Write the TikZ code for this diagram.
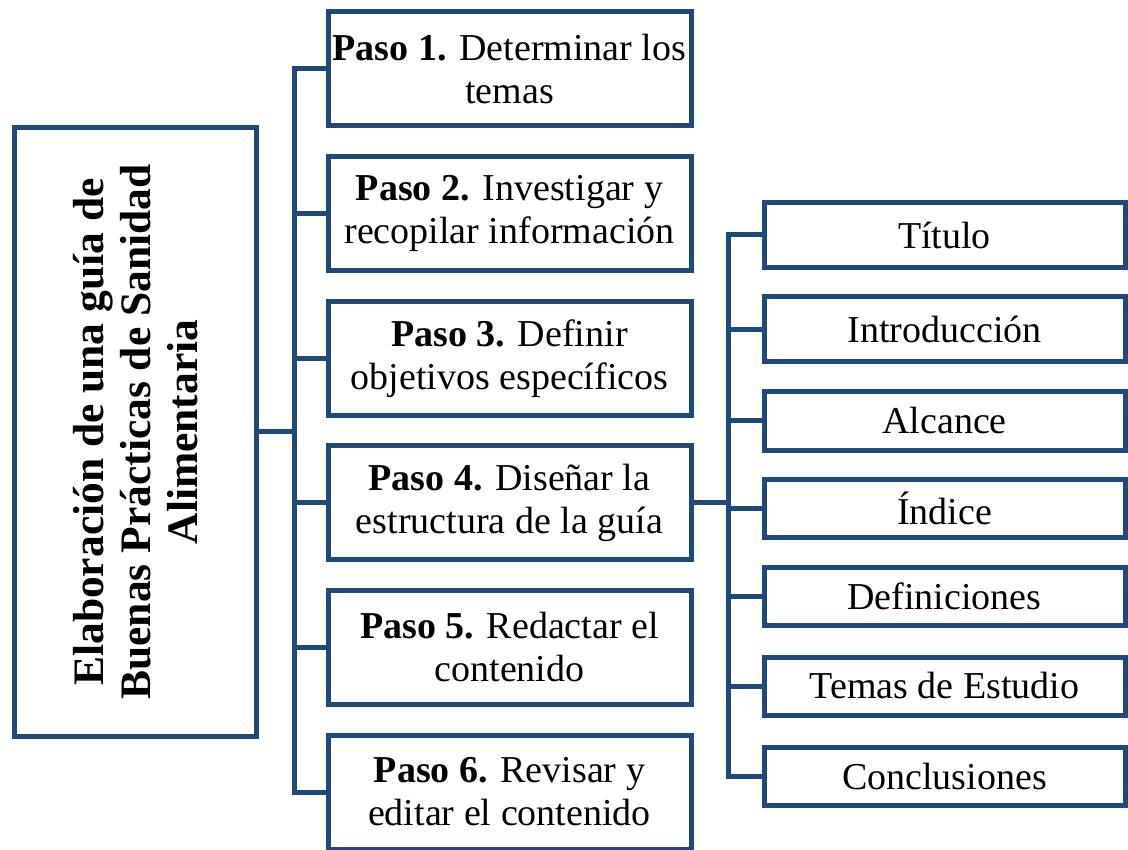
\documentclass[tikz,border=0pt]{standalone}
\usepackage{fontspec}
\setmainfont{Liberation Serif}
\definecolor{frameblue}{RGB}{31,73,125}
\begin{document}
\begin{tikzpicture}[x=1pt,y=-1pt,
  box/.style={draw=frameblue, line width=5pt, rectangle, inner sep=0pt, outer sep=0pt, align=center, fill=white},
  stepbox/.style={box, minimum width=363pt, minimum height=114pt, font=\fontsize{38}{43}\selectfont},
  subbox/.style={box, minimum width=361pt, minimum height=58pt, font=\fontsize{38}{43}\selectfont},
  mainbox/.style={box, rotate=90, minimum width=609pt, minimum height=242.5pt, font=\bfseries\fontsize{43.5}{47}\selectfont},
  conn/.style={draw=frameblue, line width=5pt, line join=miter}]
\useasboundingbox (0,0) rectangle (1128,850);

\node[mainbox] (main) at (135.25,432) {Elaboración de una guía de\\Buenas Prácticas de Sanidad\\Alimentaria};

\node[stepbox] (s1) at (509.5,69) {\textbf{Paso 1.} Determinar los\\temas};
\node[stepbox] (s2) at (509.5,213.6) {\textbf{Paso 2.} Investigar y\\recopilar información};
\node[stepbox] (s3) at (509.5,358.2) {\textbf{Paso 3.} Definir\\objetivos específicos};
\node[stepbox] (s4) at (509.5,502.8) {\textbf{Paso 4.} Diseñar la\\estructura de la guía};
\node[stepbox] (s5) at (509.5,647.4) {\textbf{Paso 5.} Redactar el\\contenido};
\node[stepbox] (s6) at (509.5,792) {\textbf{Paso 6.} Revisar y\\editar el contenido};

\node[subbox, minimum height=65pt] (t1) at (944.5,235) {Título};
\node[subbox, minimum height=65pt] (t2) at (944.5,329.5) {Introducción};
\node[subbox] (t3) at (944.5,421) {Alcance};
\node[subbox] (t4) at (944.5,508) {Índice};
\node[subbox] (t5) at (944.5,596) {Definiciones};
\node[subbox] (t6) at (944.5,686) {Temas de Estudio};
\node[subbox] (t7) at (944.5,776) {Conclusiones};

\coordinate (tr) at (294,0);
\coordinate (sr) at (728,0);

% main trunk
\draw[conn] (s1.west) -- (s1.west -| tr) -- (s6.west -| tr) -- (s6.west);
\draw[conn] (main.south) -- (main.south -| tr);
\foreach \n in {s2,s3,s4,s5} \draw[conn] (\n.west -| tr) -- (\n.west);

% sub trunk
\draw[conn] (t1.west) -- (t1.west -| sr) -- (t7.west -| sr) -- (t7.west);
\draw[conn] (s4.east) -- (s4.east -| sr);
\foreach \n in {t2,t3,t4,t5,t6} \draw[conn] (\n.west -| sr) -- (\n.west);
\end{tikzpicture}
\end{document}
